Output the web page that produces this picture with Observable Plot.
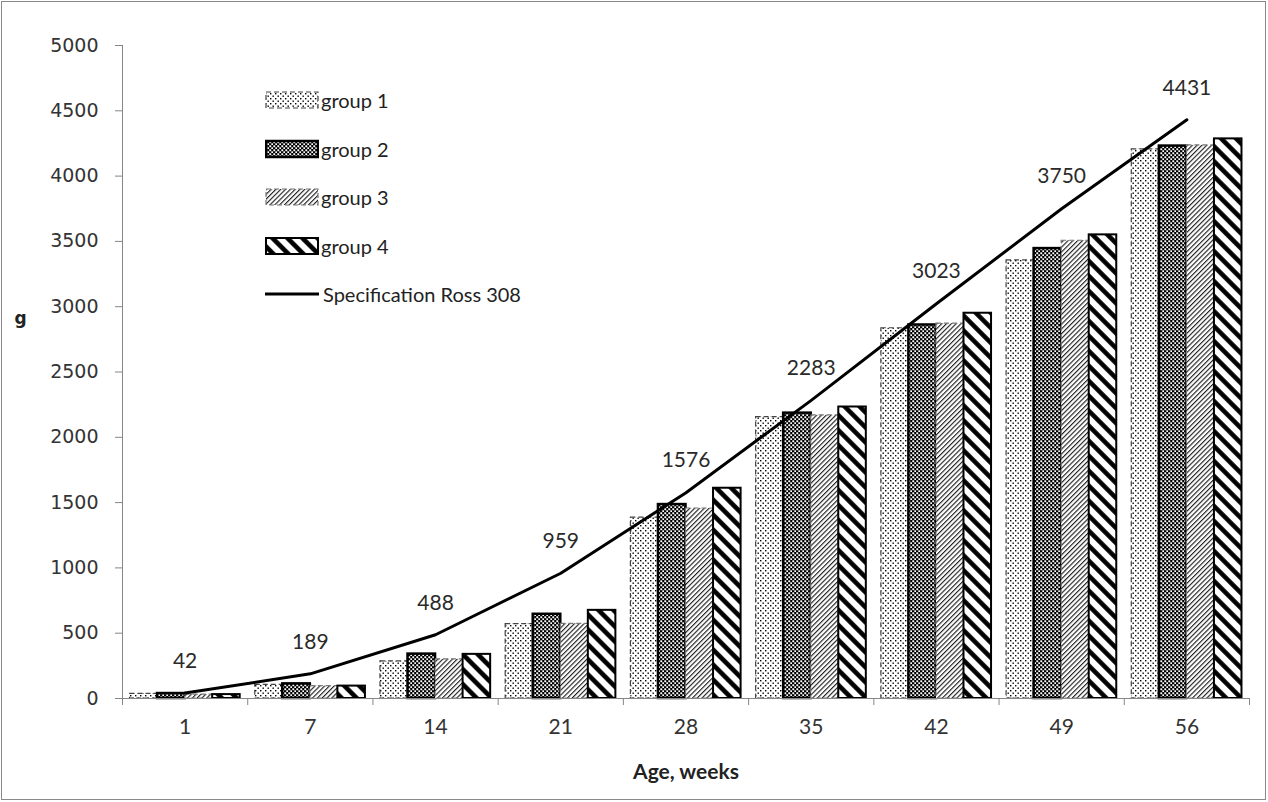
<!DOCTYPE html>
<html>
<head>
<meta charset="utf-8">
<script src="https://cdn.jsdelivr.net/npm/d3@7"></script>
<script src="https://cdn.jsdelivr.net/npm/@observablehq/plot@0.6"></script>
<style>
  body { margin: 0; background: #fff; }
  #wrap { position: relative; width: 1268px; height: 802px; overflow: hidden; background: #fff; }
  #frame { position: absolute; left: 1px; top: 1px; width: 1263px; height: 797px; border: 1px solid #8a8a8a; pointer-events: none; }
  #legend { position: absolute; left: 0; top: 0; font-family: Lato, sans-serif; font-size: 20px; color: #222; }
  .lrow { position: absolute; left: 265px; display: flex; align-items: center; white-space: nowrap; }
  .lrow svg { display: block; margin-right: 2px; }
</style>
</head>
<body>
<div id="wrap">
  <div id="chart"></div>
  <div id="legend"></div>
  <div id="frame"></div>
</div>
<script>
// ---- data ----
const ages = [1, 7, 14, 21, 28, 35, 42, 49, 56];
const group1 = [35, 105, 285, 570, 1385, 2155, 2835, 3355, 4205];
const group2 = [38, 112, 340, 645, 1485, 2185, 2860, 3445, 4230];
const group3 = [30, 95, 300, 572, 1455, 2168, 2870, 3505, 4235];
const group4 = [30, 95, 338, 675, 1610, 2232, 2950, 3550, 4285];
const spec = [42, 189, 488, 959, 1576, 2283, 3023, 3750, 4431];
const seriesNames = ["group 1", "group 2", "group 3", "group 4"];
const lineName = "Specification Ross 308";
const yTicks = [0, 500, 1000, 1500, 2000, 2500, 3000, 3500, 4000, 4500, 5000];
const yLabel = "g";
const xLabel = "Age, weeks";

// ---- styles ----
const barStyles = [
  {fill: "url(#p1)", stroke: "#444", strokeWidth: 1.2, strokeDasharray: "5,3"},
  {fill: "url(#p2)", stroke: "#000", strokeWidth: 2.5},
  {fill: "url(#p3)", stroke: "#777", strokeWidth: 1.2, strokeDasharray: "5,3"},
  {fill: "url(#p4)", stroke: "#000", strokeWidth: 2}
];
const patternDefs = `
  <pattern id="p1" patternUnits="userSpaceOnUse" width="5" height="5">
    <rect width="5" height="5" fill="#fff"/>
    <rect x="0" y="0" width="1.4" height="1.4" fill="#000"/>
    <rect x="2.5" y="2.5" width="1.4" height="1.4" fill="#000"/>
  </pattern>
  <pattern id="p2" patternUnits="userSpaceOnUse" width="4" height="4">
    <rect width="4" height="4" fill="#000"/>
    <rect x="0.3" y="0.3" width="1.9" height="1.9" fill="#fff"/>
    <rect x="2.3" y="2.3" width="1.9" height="1.9" fill="#fff"/>
  </pattern>
  <pattern id="p3" patternUnits="userSpaceOnUse" width="3.4" height="10" patternTransform="rotate(45)">
    <rect width="3.4" height="10" fill="#fff"/>
    <line x1="0.6" y1="0" x2="0.6" y2="10" stroke="#000" stroke-width="1"/>
  </pattern>
  <pattern id="p4" patternUnits="userSpaceOnUse" width="10.6" height="10" patternTransform="rotate(-45)">
    <rect width="10.6" height="10" fill="#fff"/>
    <line x1="2.4" y1="0" x2="2.4" y2="10" stroke="#000" stroke-width="4.6"/>
  </pattern>`;

// ---- tables built from the arrays ----
const groups = [group1, group2, group3, group4];
const barWidth = 0.22;
const barTables = groups.map((vals, g) => vals.map((v, i) => ({i, g, v})));
const specTable = spec.map((v, i) => ({i, v}));
const centers = ages.map((a, i) => i + 0.5);
const bounds = d3.range(0, ages.length + 1);

const marks = [];
barTables.forEach((tbl, g) => {
  marks.push(Plot.rect(tbl, {
    x1: d => d.i + 0.5 - (barWidth * groups.length) / 2 + d.g * barWidth,
    x2: d => d.i + 0.5 - (barWidth * groups.length) / 2 + (d.g + 1) * barWidth,
    y1: () => 0,
    y2: "v",
    ...barStyles[g]
  }));
});
marks.push(
  Plot.ruleX([0], {stroke: "#868686"}),
  Plot.ruleY([0], {stroke: "#868686"}),
  Plot.axisY(yTicks, {tickSize: 7, tickPadding: 17, tickFormat: d => String(d), stroke: "#868686", fill: "#333", fontFamily: "DejaVu Sans", fontSize: 19, label: null}),
  Plot.axisX(bounds, {tickSize: 7, tickFormat: () => "", stroke: "#868686", label: null}),
  Plot.axisX(centers, {tickSize: 0, tickPadding: 21, tickFormat: d => String(ages[Math.floor(d)]), fill: "#333", fontSize: 21, label: null}),
  Plot.line(specTable, {x: d => d.i + 0.5, y: "v", stroke: "#000", strokeWidth: 3}),
  Plot.text(specTable, {x: d => d.i + 0.5, y: "v", text: d => String(d.v), dy: -32, fill: "#2a2a2a", fontSize: 21}),
  Plot.text([yLabel], {frameAnchor: "left", textAnchor: "middle", dx: -102, dy: -53, fontWeight: "bold", fontFamily: "DejaVu Sans", fontSize: 17, fill: "#222"}),
  Plot.text([xLabel], {frameAnchor: "bottom", dy: 80, fontWeight: "bold", fontSize: 21, fill: "#222"})
);

const svg = Plot.plot({
  width: 1268,
  height: 802,
  marginLeft: 122,
  marginRight: 19,
  marginTop: 45,
  marginBottom: 104,
  style: {fontFamily: "Lato, sans-serif", fontSize: "20px", background: "#fff", color: "#222"},
  x: {type: "linear", domain: [0, ages.length], axis: null},
  y: {domain: [0, 5000], axis: null},
  marks
});
const defs = document.createElementNS("http://www.w3.org/2000/svg", "defs");
defs.innerHTML = patternDefs;
svg.prepend(defs);
document.getElementById("chart").appendChild(svg);

// ---- legend ----
const legend = document.getElementById("legend");
const rowCenters = [100, 148.5, 197, 245.5, 294];
seriesNames.forEach((name, g) => {
  const st = barStyles[g];
  const row = document.createElement("div");
  row.className = "lrow";
  row.style.top = (rowCenters[g] - 12) + "px";
  row.innerHTML = `<svg width="54" height="24"><rect x="1" y="4" width="52" height="16" fill="${st.fill}" stroke="${st.stroke}" stroke-width="${st.strokeWidth}" ${st.strokeDasharray ? `stroke-dasharray="${st.strokeDasharray}"` : ""}/></svg><span>${name}</span>`;
  legend.appendChild(row);
});
const lrow = document.createElement("div");
lrow.className = "lrow";
lrow.style.top = (rowCenters[4] - 12) + "px";
lrow.innerHTML = `<svg width="54" height="24"><line x1="0" x2="54" y1="12" y2="12" stroke="#000" stroke-width="3"/></svg><span style="margin-left:2px">${lineName}</span>`;
legend.appendChild(lrow);
</script>
</body>
</html>
